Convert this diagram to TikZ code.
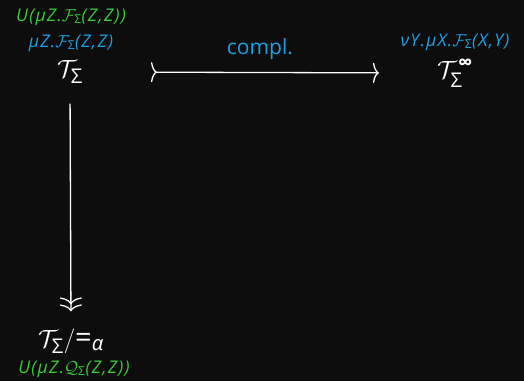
\documentclass[tikz,border=0pt]{standalone}
\usepackage{amsmath}
\usepackage{fontspec}
\setmainfont{Open Sans}
\usetikzlibrary{arrows.meta}
\definecolor{bgc}{HTML}{0D0D0D}
\definecolor{lblue}{HTML}{1BA1E2}
\definecolor{lgreen}{HTML}{3ACC3A}
\newcommand{\SG}{\text{\upshape Σ}}
\begin{document}
\begin{tikzpicture}[x=1pt,y=-1pt,
  obj/.style={text=white, font=\fontsize{29}{34}\selectfont, inner sep=0pt},
  lab/.style={font=\itshape\fontsize{17.5}{20}\selectfont\addfontfeature{LetterSpace=7}, inner sep=0pt},
  arr/.style={draw=white, line width=1.3pt}]
\fill[bgc] (0,0) rectangle (524,381);
\useasboundingbox (0,0) rectangle (524,381);
\node[obj] (T) at (70,72) {$\mathcal{T}_{\SG}$};
\node[obj] (Ti) at (455,73) {$\mathcal{T}_{\SG}^{\hspace{1pt}\text{\upshape\bfseries ∞}}$};
\node[obj] (Tq) at (71,341) {$\mathcal{T}_{\SG}/$\text{=}$_{\text{\itshape α}}$};
\node[lab, text=lgreen] (gT) at (71,17) {U(μZ.$\mathcal{F}_{\SG}$(Z,Z))};
\node[lab, text=lblue] (bT) at (71,43) {μZ.$\mathcal{F}_{\SG}$(Z,Z)};
\node[lab, text=lblue] (bTi) at (455,42) {νY.μX.$\mathcal{F}_{\SG}$(X,Y)};
\node[lab, text=lgreen] (gTq) at (74,369) {U(μZ.$\mathcal{Q}_{\SG}$(Z,Z))};
\draw[arr, {Computer Modern Rightarrow[reversed,length=6pt,width=20pt]}-{Computer Modern Rightarrow[length=6pt,width=20pt]},
  shorten <=68pt, shorten >=58pt] (T.east) -- node[midway, above=12pt, font=\fontsize{21}{24}\selectfont, text=lblue, inner sep=0pt] (cl) {compl.} (Ti.west);
\draw[arr, -{Computer Modern Rightarrow[length=7pt,width=22pt] Computer Modern Rightarrow[length=7pt,width=22pt]},
  shorten <=20pt, shorten >=17pt] (T.south) -- (Tq.north);
\end{tikzpicture}
\end{document}
